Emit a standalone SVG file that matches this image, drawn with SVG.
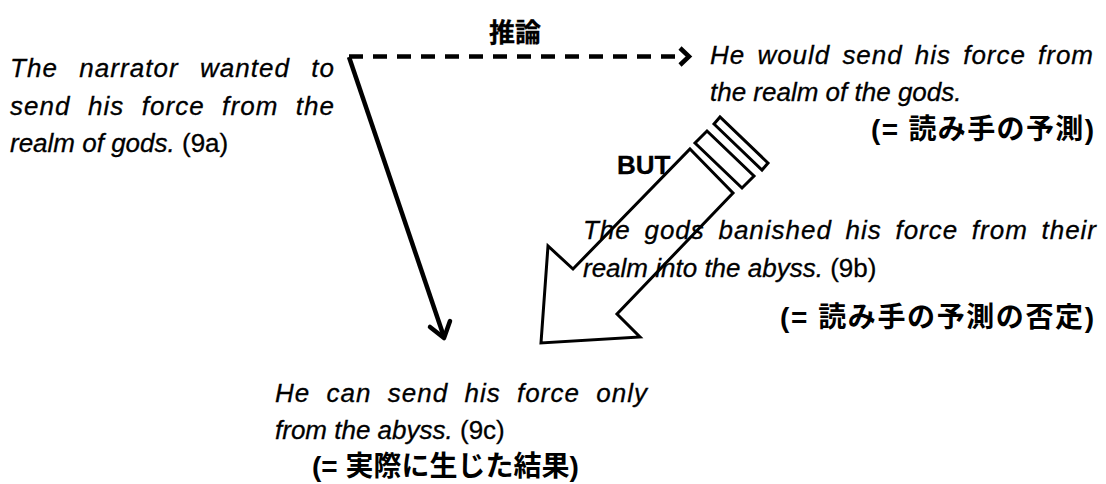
<svg xmlns="http://www.w3.org/2000/svg" width="1106" height="484" viewBox="0 0 1106 484">
<style>
.t{font-family:"Liberation Sans",Arial,"Noto Sans CJK JP",sans-serif;font-size:26px;fill:#000;stroke:#000;stroke-width:0.3}
.i{font-style:italic}
.n{font-style:normal}
.b{font-weight:bold}
.js{letter-spacing:1px}
.j{font-family:"Liberation Sans",Arial,"Noto Sans CJK JP",sans-serif;font-size:28px;font-weight:bold;fill:#000}
.ln{fill:none;stroke:#000;stroke-width:4.5}
.big{fill:none;stroke:#000;stroke-width:3;stroke-linejoin:miter}
</style>
<rect width="1106" height="484" fill="#fff"/>
<g id="connectors">
  <g id="edge-inference">
    <line class="ln" x1="349" y1="56.5" x2="676" y2="56.5" stroke-dasharray="14 10"/>
    <polyline class="ln" points="680,48 689,56.5 680,65" stroke-width="5.5"/>
    <text class="t b" x="515" y="42" text-anchor="middle">推論</text>
  </g>
  <g id="edge-9a-9c">
    <line class="ln" x1="349" y1="57" x2="444" y2="337"/>
    <polyline class="ln" points="430,327 444,338 450,321" stroke-linecap="round" stroke-linejoin="round"/>
  </g>
  <g id="edge-but">
    <polygon class="big" points="690,149 733,193 617,314 640,337 541,343 548,246 573,269"/>
    <polygon class="big" points="695,143 707,131 754,176 742,188"/>
    <polygon class="big" points="714,124 720,117 768,163 762,170"/>
    <text class="t b" x="617" y="174" font-size="31">BUT</text>
  </g>
</g>
<g id="n9a">
  <text class="t i js" x="10" y="77" word-spacing="13" textLength="325" lengthAdjust="spacing">The narrator wanted to</text>
  <text class="t i js" x="10" y="115" word-spacing="9" textLength="325" lengthAdjust="spacing">send his force from the</text>
  <text class="t i" x="10" y="152">realm of gods. <tspan class="n">(9a)</tspan></text>
</g>
<g id="nPrediction">
  <text class="t i js" x="710" y="64" word-spacing="4" textLength="384" lengthAdjust="spacing">He would send his force from</text>
  <text class="t i" x="710" y="101">the realm of the gods.</text>
  <text class="j" x="871" y="139" textLength="223" lengthAdjust="spacing">(= 読み手の予測)</text>
</g>
<g id="n9b">
  <text class="t i js" x="583" y="239" word-spacing="5.5" textLength="514" lengthAdjust="spacing">The gods banished his force from their</text>
  <text class="t i" x="583" y="277">realm into the abyss. <tspan class="n">(9b)</tspan></text>
  <text class="j" x="780" y="327" textLength="314" lengthAdjust="spacing">(= 読み手の予測の否定)</text>
</g>
<g id="n9c">
  <text class="t i js" x="275" y="402" word-spacing="8" textLength="373" lengthAdjust="spacing">He can send his force only</text>
  <text class="t i" x="275" y="439">from the abyss. <tspan class="n">(9c)</tspan></text>
  <text class="j" x="312" y="476" font-size="27">(= 実際に生じた結果)</text>
</g>
</svg>
